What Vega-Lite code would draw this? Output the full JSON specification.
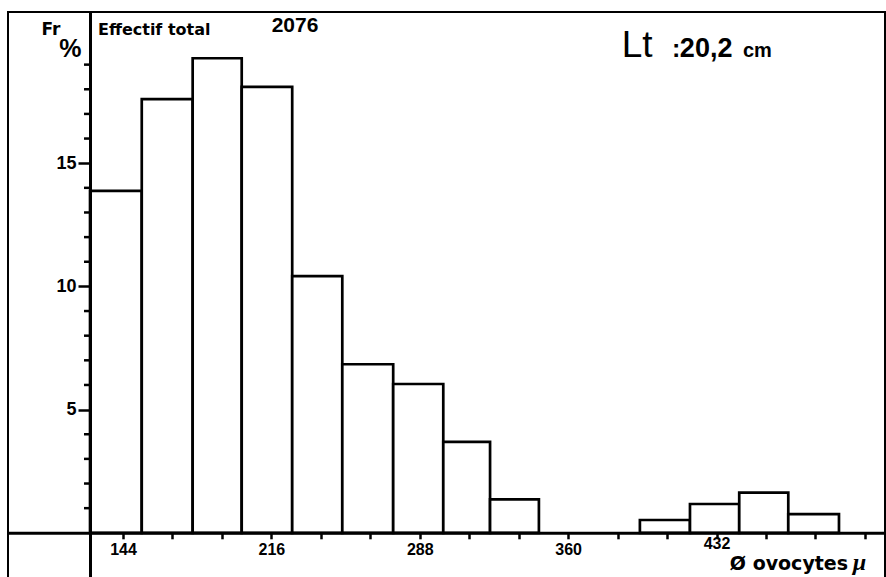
{
  "$schema": "https://vega.github.io/schema/vega-lite/v6.json",
  "width": 877,
  "height": 566,
  "autosize": "none",
  "padding": {"left": 8, "top": 12, "right": 1, "bottom": 0},
  "background": "white",
  "config": {"view": {"stroke": "black", "strokeWidth": 2}},
  "layer": [
    {
      "data": {"values": [
        {"x0": 128.0, "x1": 153.1, "fr": 13.88},
        {"x0": 153.1, "x1": 177.8, "fr": 17.6},
        {"x0": 177.8, "x1": 201.6, "fr": 19.26},
        {"x0": 201.6, "x1": 226.1, "fr": 18.1},
        {"x0": 226.1, "x1": 250.4, "fr": 10.42},
        {"x0": 250.4, "x1": 275.1, "fr": 6.84},
        {"x0": 275.1, "x1": 299.4, "fr": 6.04},
        {"x0": 299.4, "x1": 322.1, "fr": 3.69},
        {"x0": 322.1, "x1": 345.8, "fr": 1.36},
        {"x0": 394.8, "x1": 419.1, "fr": 0.52},
        {"x0": 419.1, "x1": 443.0, "fr": 1.17},
        {"x0": 443.0, "x1": 466.8, "fr": 1.63},
        {"x0": 466.8, "x1": 491.4, "fr": 0.76}
      ]},
      "mark": {"type": "rect", "fill": "white", "stroke": "black", "strokeWidth": 2.7},
      "encoding": {
        "x": {"field": "x0", "type": "quantitative",
          "scale": {"domain": [88.2, 513.73], "nice": false, "zero": false},
          "axis": {"orient": "bottom", "offset": -45.2, "title": null, "grid": false,
            "values": [144,168,192,216,240,264,288,312,336,360,384,408,432,456,480,504],
            "labelExpr": "indexof([144,216,288,360,432], round(datum.value)) >= 0 ? '' + round(datum.value) : ''",
            "tickSize": 6, "tickWidth": 2.5, "tickColor": "black",
            "domainColor": "black", "domainWidth": 3,
            "labelFont": "Liberation Sans", "labelFontWeight": "bold", "labelFontSize": 16,
            "labelColor": "black",
            "labelPadding": {"condition": {"test": "round(datum.value) === 432", "value": -3}, "value": 3},
            "labelOverlap": false, "labelFlush": false, "zindex": 1}},
        "x2": {"field": "x1"},
        "y": {"field": "fr", "type": "quantitative",
          "scale": {"domain": [-1.834, 21.136], "nice": false, "zero": false},
          "axis": {"orient": "left", "offset": -82, "title": null, "grid": false,
            "values": [5, 10, 15],
            "tickSize": 12,
            "tickWidth": 2.5, "tickColor": "black",
            "domainColor": "black", "domainWidth": 3,
            "labelFont": "Liberation Sans", "labelFontWeight": "bold", "labelFontSize": 18,
            "labelColor": "black", "labelPadding": 2, "labelOverlap": false, "labelFlush": false, "zindex": 1}},
        "y2": {"datum": 0}
      }
    },
    {
      "data": {"values": [
        {"v": 1}, {"v": 2}, {"v": 3}, {"v": 4}, {"v": 6}, {"v": 7}, {"v": 8}, {"v": 9},
        {"v": 11}, {"v": 12}, {"v": 13}, {"v": 14}, {"v": 16}, {"v": 17}, {"v": 18}, {"v": 19}
      ]},
      "mark": {"type": "tick", "orient": "horizontal", "size": 6, "thickness": 2.5, "xOffset": -3, "color": "black", "opacity": 1},
      "encoding": {
        "x": {"datum": 128.0, "type": "quantitative"},
        "y": {"field": "v", "type": "quantitative"}
      }
    },
    {
      "data": {"values": [{}]},
      "mark": {"type": "text", "text": "Fr", "font": "DejaVu Sans", "fontWeight": "bold", "fontSize": 17, "align": "center", "baseline": "alphabetic", "color": "black"},
      "encoding": {
        "x": {"datum": 109.07, "type": "quantitative"},
        "y": {"datum": 20.2, "type": "quantitative"}
      }
    },
    {
      "data": {"values": [{}]},
      "mark": {"type": "text", "text": "%", "font": "Liberation Sans Narrow, Liberation Sans", "fontWeight": "bold", "fontSize": 25, "align": "center", "baseline": "alphabetic", "color": "black"},
      "encoding": {
        "x": {"datum": 118.5, "type": "quantitative"},
        "y": {"datum": 19.31, "type": "quantitative"}
      }
    },
    {
      "data": {"values": [{}]},
      "mark": {"type": "text", "text": "Effectif total", "font": "DejaVu Sans", "fontWeight": "bold", "fontSize": 16, "align": "left", "baseline": "alphabetic", "color": "black"},
      "encoding": {
        "x": {"datum": 131.87, "type": "quantitative"},
        "y": {"datum": 20.2, "type": "quantitative"}
      }
    },
    {
      "data": {"values": [{}]},
      "mark": {"type": "text", "text": "2076", "font": "Liberation Sans", "fontWeight": "bold", "fontSize": 21, "align": "center", "baseline": "alphabetic", "color": "black"},
      "encoding": {
        "x": {"datum": 227.45, "type": "quantitative"},
        "y": {"datum": 20.32, "type": "quantitative"}
      }
    },
    {
      "data": {"values": [{}]},
      "mark": {"type": "text", "text": "Lt", "font": "Liberation Sans", "fontWeight": "normal", "fontSize": 37, "align": "left", "baseline": "alphabetic", "color": "black"},
      "encoding": {
        "x": {"datum": 385.97, "type": "quantitative"},
        "y": {"datum": 19.3, "type": "quantitative"}
      }
    },
    {
      "data": {"values": [{}]},
      "mark": {"type": "text", "text": ":", "font": "Liberation Sans", "fontWeight": "bold", "fontSize": 25, "align": "left", "baseline": "alphabetic", "color": "black"},
      "encoding": {
        "x": {"datum": 410.4, "type": "quantitative"},
        "y": {"datum": 19.3, "type": "quantitative"}
      }
    },
    {
      "data": {"values": [{}]},
      "mark": {"type": "text", "text": "20,2", "font": "Liberation Sans", "fontWeight": "bold", "fontSize": 27, "align": "left", "baseline": "alphabetic", "color": "black"},
      "encoding": {
        "x": {"datum": 414.2, "type": "quantitative"},
        "y": {"datum": 19.3, "type": "quantitative"}
      }
    },
    {
      "data": {"values": [{}]},
      "mark": {"type": "text", "text": "cm", "font": "Liberation Sans", "fontWeight": "bold", "fontSize": 20, "align": "left", "baseline": "alphabetic", "color": "black"},
      "encoding": {
        "x": {"datum": 444.8, "type": "quantitative"},
        "y": {"datum": 19.3, "type": "quantitative"}
      }
    },
    {
      "data": {"values": [{}]},
      "mark": {"type": "text", "text": "Ø ovocytes", "font": "DejaVu Sans", "fontWeight": "bold", "fontSize": 19, "align": "right", "baseline": "alphabetic", "color": "black"},
      "encoding": {
        "x": {"datum": 495.8, "type": "quantitative"},
        "y": {"datum": -1.5, "type": "quantitative"}
      }
    },
    {
      "data": {"values": [{}]},
      "mark": {"type": "text", "text": "µ", "font": "Liberation Serif", "fontStyle": "italic", "fontWeight": "bold", "fontSize": 24, "align": "left", "baseline": "alphabetic", "color": "black"},
      "encoding": {
        "x": {"datum": 497.9, "type": "quantitative"},
        "y": {"datum": -1.5, "type": "quantitative"}
      }
    }
  ]
}
